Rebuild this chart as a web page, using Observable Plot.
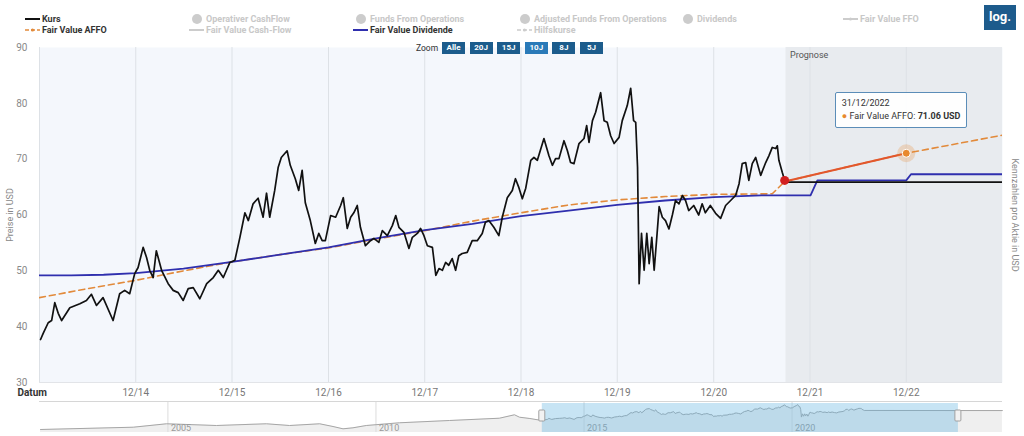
<!DOCTYPE html>
<html><head><meta charset="utf-8">
<script src="https://cdn.jsdelivr.net/npm/d3@7"></script>
<script src="https://cdn.jsdelivr.net/npm/@observablehq/plot@0.6"></script>
<style>
body{margin:0;background:#fff;font-family:Roboto,"Open Sans",sans-serif;}
#wrap{position:relative;width:1024px;height:436px;overflow:hidden;background:#fff;}
#wrap svg{position:absolute;left:0;}
.lg{position:absolute;font-size:9px;font-weight:700;white-space:nowrap;line-height:12px;}
.lg svg{position:absolute;}
.btn{position:absolute;height:12px;width:23px;color:#fff;font-size:8px;font-weight:700;text-align:center;line-height:12px;}
.tip{position:absolute;background:rgba(255,255,255,0.92);border:1px solid #5b8db8;border-radius:2px;font-size:9px;color:#333;padding:4px 6px;line-height:13px;white-space:nowrap;}
</style></head><body><div id="wrap"></div>
<script>
// ---------- DATA ----------
const priceDates = ["2014-01-04","2014-01-14","2014-02-02","2014-02-15","2014-02-27","2014-03-12","2014-03-25","2014-04-25","2014-06-02","2014-06-27","2014-07-16","2014-08-04","2014-08-29","2014-10-06","2014-10-31","2014-11-19","2014-12-08","2014-12-27",
"2015-01-09","2015-01-28","2015-02-10","2015-02-22","2015-03-07","2015-03-19","2015-04-08","2015-05-03","2015-05-22","2015-06-10","2015-06-29","2015-07-18","2015-08-06","2015-08-31","2015-09-26","2015-10-21","2015-11-09","2015-11-28","2015-12-10","2015-12-23",
"2016-01-11","2016-01-30","2016-02-18","2016-03-02","2016-03-20","2016-04-08","2016-04-27","2016-05-10","2016-05-22","2016-06-10","2016-06-23","2016-07-05","2016-07-27","2016-08-08","2016-08-27","2016-09-09","2016-09-22","2016-10-04","2016-10-23","2016-11-11","2016-11-24","2016-12-07","2016-12-19",
"2017-01-08","2017-01-27","2017-02-15","2017-02-25","2017-03-12","2017-03-25","2017-04-06","2017-04-19","2017-05-01","2017-05-20","2017-06-08","2017-06-21","2017-07-10","2017-07-23","2017-08-11","2017-08-30","2017-09-12","2017-09-24","2017-10-13","2017-11-01","2017-11-14","2017-12-03","2017-12-15","2017-12-28",
"2018-01-10","2018-01-29","2018-02-11","2018-02-23","2018-03-08","2018-03-20","2018-04-01","2018-04-14","2018-04-27","2018-05-09","2018-05-22","2018-06-10","2018-06-29","2018-07-18","2018-08-06","2018-08-18","2018-08-31","2018-09-19","2018-10-08","2018-10-21","2018-11-09","2018-11-28","2018-12-10","2018-12-23",
"2019-01-05","2019-01-18","2019-02-06","2019-02-18","2019-03-03","2019-03-28","2019-04-16","2019-04-29","2019-05-11","2019-05-24","2019-06-12","2019-06-25","2019-07-07","2019-07-20","2019-08-08","2019-08-27","2019-09-06","2019-09-15","2019-09-28","2019-10-10","2019-10-29","2019-11-11","2019-11-23","2019-12-06","2019-12-19",
"2020-01-07","2020-01-19","2020-02-07","2020-02-20","2020-03-02","2020-03-10","2020-03-17","2020-03-23","2020-04-01","2020-04-11","2020-04-21","2020-04-30","2020-05-10","2020-05-19","2020-05-28","2020-06-07","2020-06-19","2020-07-01","2020-07-14","2020-07-27","2020-08-08","2020-08-21","2020-09-03","2020-09-15","2020-09-27","2020-10-16","2020-11-04","2020-11-17","2020-11-29","2020-12-18",
"2021-01-07","2021-01-26","2021-02-14","2021-03-05","2021-03-24","2021-04-06","2021-04-18","2021-05-01","2021-05-13","2021-05-26","2021-06-08","2021-06-27","2021-07-16","2021-07-28","2021-08-10","2021-08-23","2021-08-29","2021-09-04","2021-09-17","2021-09-26"];
const priceValues = [37.7,38.8,40.7,41.1,44.3,42.4,41.1,43.4,44.1,44.7,45.8,43.8,45.2,41.1,45.9,46.5,45.9,49.5,
50.6,54.2,52.4,50.1,48.8,53.6,50.1,47.7,46.5,46.1,44.7,46.8,47.0,45.0,47.7,48.8,50.1,48.8,50.1,51.5,
51.9,56.0,60.4,59.0,62.0,63.0,59.6,63.9,59.6,64.4,68.5,70.3,71.5,68.9,66.5,64.4,68.0,62.2,59.0,54.9,56.7,55.4,55.4,
59.9,59.6,61.7,63.1,57.6,59.6,60.4,61.7,57.8,54.5,55.4,55.8,55.1,57.2,56.3,58.1,59.9,57.8,56.9,54.0,56.0,56.7,57.6,56.3,
54.5,54.2,49.2,50.4,50.1,51.5,51.0,52.2,50.1,52.7,53.1,53.3,55.4,55.4,56.7,58.7,59.0,57.8,56.3,59.6,63.1,64.4,66.5,64.9,
62.9,64.8,69.8,70.3,69.8,73.7,70.6,68.9,70.1,70.1,73.3,71.5,69.4,69.2,72.8,73.7,76.0,73.0,76.9,78.4,81.9,76.9,76.6,74.2,72.8,
73.9,76.9,79.6,82.7,76.9,76.6,68.5,47.7,56.7,50.1,56.7,51.3,56.0,50.1,55.4,61.5,59.6,59.0,57.5,60.0,62.6,62.0,63.5,62.6,60.8,61.7,60.0,62.0,60.4,61.7,
60.3,59.4,61.7,62.6,63.5,65.6,69.2,69.4,66.2,69.2,70.3,67.1,69.4,70.6,72.1,71.9,72.4,69.8,67.6,66.2];

const kursForecastDates = ["2021-09-26","2025-01-20"];
const kursForecastValues = [65.9, 65.9];

const affoDates = ["2013-12-31","2014-06-30","2014-12-31","2015-06-30","2015-12-31","2016-06-30","2016-12-31","2017-06-30","2017-12-31","2018-06-30","2018-12-31","2019-06-30","2019-12-31","2020-06-30","2020-12-31","2021-08-10","2021-09-26","2022-12-31","2023-12-31"];
const affoValues = [45.2,46.8,48.3,50.0,51.6,52.9,54.1,55.7,57.2,58.9,60.4,61.8,62.7,63.3,63.7,63.8,66.0,71.06,74.3];

const divDates = ["2013-12-31","2014-04-30","2014-08-31","2014-12-31","2015-06-30","2015-12-31","2016-06-30","2016-12-31","2017-06-30","2017-12-31","2018-06-30","2018-12-31","2019-06-30","2019-12-31","2020-06-30","2020-12-31","2021-06-30","2022-01-02","2022-01-28","2022-12-31","2023-01-18","2023-12-31"];
const divValues = [49.2,49.2,49.3,49.6,50.4,51.6,52.9,54.2,55.8,57.3,58.4,59.8,60.8,61.8,62.6,63.2,63.5,63.5,66.2,66.2,67.3,67.3];

// navigator: earlier price history (before the main window)
const navHistDates = ["2001-12-10","2004-03-03","2004-12-20","2006-03-03","2007-05-15","2007-12-05","2008-08-25","2008-12-20","2009-03-18","2009-06-13","2009-10-08","2010-07-26","2011-10-08","2012-12-20","2013-05-01","2013-06-14","2013-09-13"];
const navHistValues = [12.9,19.3,28.9,24.1,28.9,24.1,28.9,21.3,14.8,17.6,24.1,31.7,38.1,44.5,54.1,47.3,43.7];

const mainDomain = ["2013-12-31","2023-12-31"];
const navDomain = ["2001-12-01","2025-01-21"];
const prognoseStart = "2021-10-01";
const hoverDate = "2022-12-31";
const xTickDates = ["2014-12-31","2015-12-31","2016-12-31","2017-12-31","2018-12-31","2019-12-31","2020-12-31","2021-12-31","2022-12-31"];
const gridDates = ["2013-12-31"].concat(xTickDates);
const yTicks = [30,40,50,60,70,80,90];
const navYearTicks = ["2005-01-01","2010-01-01","2015-01-01","2020-01-01"];
const navYDomain = [4.5, 85.7];

const legendLabels = ["Kurs","Operativer CashFlow","Funds From Operations","Adjusted Funds From Operations","Dividends","Fair Value FFO","Fair Value AFFO","Fair Value Cash-Flow","Fair Value Dividende","Hilfskurse"];
const legendSymbols = ["line","circle","circle","circle","circle","line","dash","line","line","dash"];
const legendActive = [true,false,false,false,false,false,true,false,true,false];
const legendColors = ["#111","#ccc","#ccc","#ccc","#ccc","#ccc","#e28a3b","#ccc","#2f2fae","#ccc"];
const zoomButtons = ["Alle","20J","15J","10J","8J","5J"];
const zoomSelected = "10J";

// ---------- BUILD ----------
const parse = d3.utcParse("%Y-%m-%d");
const toSeries = (ds, vs) => ds.map((d, i) => ({date: parse(d), value: vs[i]}));
const price = toSeries(priceDates, priceValues);
const kursFc = toSeries(kursForecastDates, kursForecastValues);
const affo = toSeries(affoDates, affoValues);
const div = toSeries(divDates, divValues);
const navData = toSeries(navHistDates, navHistValues).concat(price, kursFc.slice(1));
const lastPrice = price[price.length - 1];
const hoverPoint = affo.find(d => +d.date === +parse(hoverDate));
const hoverSeg = affo.filter(d => d.date >= lastPrice.date && d.date <= hoverPoint.date);
const prog = {x1: parse(prognoseStart), x2: parse(mainDomain[1])};
const wrap = document.getElementById("wrap");

const main = Plot.plot({
  width: 1024, height: 400,
  marginTop: 47, marginBottom: 18, marginLeft: 39, marginRight: 22,
  x: {type: "utc", domain: mainDomain.map(parse)},
  y: {domain: [30, 90]},
  style: {fontFamily: "Roboto, sans-serif", fontSize: "10px", color: "#777", background: "transparent"},
  marks: [
    Plot.frame({fill: "#f4f7fc", stroke: "none"}),
    Plot.rect([prog], {x1: "x1", x2: "x2", fill: "#e8ebef"}),
    Plot.ruleX(gridDates.map(parse), {stroke: "#dde1e6"}),
    Plot.ruleY([30], {stroke: "#e2e4e8"}),
    Plot.axisY({ticks: yTicks, tickSize: 0, tickPadding: 12, label: null, fill: "#8a8a8a"}),
    Plot.axisX({ticks: xTickDates.map(parse), tickSize: 0, tickPadding: 6, tickFormat: d3.utcFormat("%m/%y"), label: null, fill: "#777"}),
    Plot.text(["Datum"], {text: d => d, frameAnchor: "bottom-left", dx: -22, dy: 10, textAnchor: "start", lineAnchor: "middle", fontWeight: "bold", fill: "#333"}),
    Plot.text(["Preise in USD"], {text: d => d, frameAnchor: "left", dx: -29, rotate: -90, textAnchor: "middle", fill: "#888", fontSize: 9}),
    Plot.text(["Kennzahlen pro Aktie in USD"], {text: d => d, frameAnchor: "right", dx: 12, rotate: 90, textAnchor: "middle", fill: "#888", fontSize: 9}),
    Plot.text([prog], {x: "x1", text: () => "Prognose", frameAnchor: "top", dx: 4, dy: 4, textAnchor: "start", lineAnchor: "top", fill: "#555", fontSize: 9}),
    Plot.line(affo, {x: "date", y: "value", stroke: "#e28a3b", strokeWidth: 1.6, strokeDasharray: "6,4", clip: true}),
    Plot.line(div, {x: "date", y: "value", stroke: "#2f2fae", strokeWidth: 1.8, clip: true}),
    Plot.line(price, {x: "date", y: "value", stroke: "#111", strokeWidth: 1.7, clip: true}),
    Plot.line(kursFc, {x: "date", y: "value", stroke: "#111", strokeWidth: 1.7, clip: true}),
    Plot.line(hoverSeg, {x: "date", y: "value", stroke: "#e2572d", strokeWidth: 2}),
    Plot.dot([lastPrice], {x: "date", y: "value", r: 4.5, fill: "#d21f1f"}),
    Plot.dot([hoverPoint], {x: "date", y: "value", r: 9, fill: "#e8892e", fillOpacity: 0.25}),
    Plot.dot([hoverPoint], {x: "date", y: "value", r: 4, fill: "#e8892e", stroke: "#fff", strokeWidth: 1})
  ]
});
main.style.top = "0px";
wrap.appendChild(main);

const sel = {x1: parse(mainDomain[0]), x2: parse(mainDomain[1])};
const nav = Plot.plot({
  width: 1024, height: 36,
  marginTop: 3, marginBottom: 4, marginLeft: 39, marginRight: 22,
  x: {type: "utc", domain: navDomain.map(parse), axis: null},
  y: {domain: navYDomain, axis: null},
  style: {fontFamily: "Roboto, sans-serif", fontSize: "9px", background: "transparent"},
  marks: [
    Plot.areaY(navData, {x: "date", y1: navYDomain[0], y2: "value", fill: "#efefef"}),
    Plot.ruleX(navYearTicks.map(parse), {stroke: "#dcdcdc", insetTop: -2}),
    Plot.line(navData, {x: "date", y: "value", stroke: "#a6a6a6", strokeWidth: 1}),
    Plot.text(navYearTicks.map(parse), {x: d => d, text: d => String(d.getUTCFullYear()), frameAnchor: "bottom", dx: 3, dy: -2, textAnchor: "start", lineAnchor: "bottom", fill: "#999", fontSize: 9}),
    Plot.rect([sel], {x1: "x1", x2: "x2", fill: "rgb(100,180,225)", fillOpacity: 0.36}),
    Plot.rect([sel.x1, sel.x2], {x1: d => d, x2: d => d, insetLeft: -3, insetRight: -3, insetTop: 7, insetBottom: 11, fill: "#f2f2f2", stroke: "#a0a0a0", rx: 1})
  ]
});
nav.style.top = "400px";
wrap.appendChild(nav);

// navigator top border
const bl = document.createElement("div");
bl.style.cssText = "position:absolute;left:39px;top:401px;width:963px;height:1px;background:#d6d6d6;";
wrap.appendChild(bl);

// legend
const colX = [42, 206, 370, 534, 697, 860];
const rowY = [13, 24];
legendLabels.forEach((lab, i) => {
  const el = document.createElement("div");
  el.className = "lg";
  el.style.left = colX[i % 6] + "px";
  el.style.top = rowY[Math.floor(i / 6)] + "px";
  el.style.color = legendActive[i] ? "#333" : "#c8c8c8";
  el.textContent = lab;
  const s = legendSymbols[i], c = legendColors[i];
  let svg;
  if (s === "circle") svg = `<svg width="12" height="12" style="left:-15px;top:0"><circle cx="6" cy="6" r="5" fill="${c}"/></svg>`;
  else if (s === "line") svg = `<svg width="16" height="12" style="left:-17px;top:0"><line x1="0" x2="15" y1="6" y2="6" stroke="${c}" stroke-width="2"/>${i===5?`<circle cx="7.5" cy="6" r="1.5" fill="${c}"/>`:""}</svg>`;
  else svg = `<svg width="16" height="12" style="left:-17px;top:0"><line x1="0" x2="15" y1="6" y2="6" stroke="${c}" stroke-width="1.6" stroke-dasharray="4,2"/><circle cx="7.5" cy="6" r="1.6" fill="${c}"/></svg>`;
  el.insertAdjacentHTML("beforeend", svg);
  wrap.appendChild(el);
});

// zoom buttons
const zl = document.createElement("div");
zl.style.cssText = "position:absolute;left:416px;top:42px;font-size:8.5px;color:#333;line-height:12px;";
zl.textContent = "Zoom";
wrap.appendChild(zl);
zoomButtons.forEach((b, i) => {
  const el = document.createElement("div");
  el.className = "btn";
  el.style.left = (442 + i * 27.6) + "px";
  el.style.top = "42px";
  el.style.background = b === zoomSelected ? "#2a7ab8" : "#1c5c8c";
  el.textContent = b;
  wrap.appendChild(el);
});

// log button
const lg = document.createElement("div");
lg.style.cssText = "position:absolute;left:984px;top:5px;width:32px;height:25px;background:#1d5b8c;color:#fff;font-size:13px;font-weight:700;text-align:center;line-height:24px;";
lg.textContent = "log.";
wrap.appendChild(lg);

// tooltip anchored on the hovered point
const px = main.scale("x").apply(hoverPoint.date);
const py = main.scale("y").apply(hoverPoint.value);
const tip = document.createElement("div");
tip.className = "tip";
tip.style.left = (px - 71) + "px";
tip.style.top = (py - 61) + "px";
tip.innerHTML = `${d3.utcFormat("%d/%m/%Y")(hoverPoint.date)}<br><span style="color:#e8892e">\u25CF</span> Fair Value AFFO: <b>${hoverPoint.value.toFixed(2)} USD</b>`;
wrap.appendChild(tip);
</script></body></html>
